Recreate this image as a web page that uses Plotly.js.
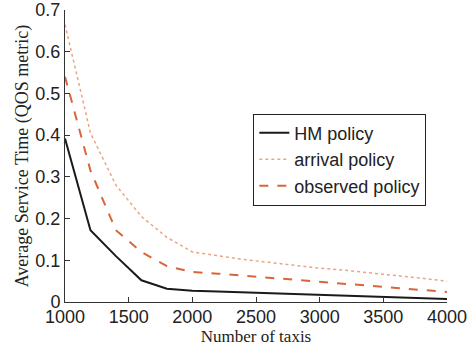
<!DOCTYPE html>
<html>
<head>
<meta charset="utf-8">
<script src="https://cdn.plot.ly/plotly-3.0.1.min.js"></script>
<style>html,body{margin:0;padding:0;background:#fff;}#chart{width:469px;height:351px;}</style>
</head>
<body>
<div id="chart"></div>
<script>
const taxis = [1000,1200,1400,1600,1800,2000,2200,2400,2600,2800,3000,3200,3400,3600,3800,4000];
const hmPolicy = [0.392,0.172,0.110,0.052,0.032,0.027,0.025,0.023,0.021,0.019,0.017,0.015,0.013,0.011,0.009,0.007];
const arrivalPolicy = [0.665,0.405,0.280,0.205,0.155,0.120,0.111,0.102,0.095,0.088,0.081,0.076,0.070,0.064,0.057,0.050];
const observedPolicy = [0.540,0.315,0.172,0.120,0.086,0.072,0.068,0.063,0.058,0.053,0.048,0.043,0.039,0.034,0.029,0.024];
const seriesNames = ["HM policy","arrival policy","observed policy"];

const traces = [
  {x: taxis, y: hmPolicy, name: seriesNames[0], mode: "lines", line: {color: "#1a1a1a", width: 2}},
  {x: taxis, y: arrivalPolicy, name: seriesNames[1], mode: "lines", line: {color: "#eba583", width: 1.5, dash: "dot"}},
  {x: taxis, y: observedPolicy, name: seriesNames[2], mode: "lines", line: {color: "#d9653a", width: 2, dash: "dash"}}
];

const layout = {
  width: 469, height: 351,
  margin: {l: 65, r: 22, t: 10, b: 49, pad: 0},
  paper_bgcolor: "#fff", plot_bgcolor: "#fff",
  showlegend: true,
  legend: {x: 0.493, y: 0.645, xanchor: "left", yanchor: "top", bordercolor: "#222", borderwidth: 1,
           bgcolor: "#fff", font: {family: "Liberation Sans, Arial", size: 18, color: "#222"}, tracegroupgap: 0},
  xaxis: {range: [1000, 4000], dtick: 500, tick0: 1000, ticks: "inside", ticklen: 5, tickcolor: "#333",
          showline: true, linecolor: "#333", linewidth: 1, showgrid: false, zeroline: false, mirror: false,
          tickfont: {family: "Liberation Sans, Arial", size: 18, color: "#222"}, ticklabelstandoff: -2,
          title: {text: "Number of taxis", font: {family: "Liberation Serif, Times New Roman", size: 17, color: "#222"}, standoff: 2},
          automargin: false},
  yaxis: {range: [0, 0.7], dtick: 0.1, tick0: 0, ticks: "inside", ticklen: 5, tickcolor: "#333",
          showline: true, linecolor: "#333", linewidth: 1, showgrid: false, zeroline: false, mirror: false,
          tickfont: {family: "Liberation Sans, Arial", size: 18, color: "#222"},
          title: {text: "Average Service Time (QOS metric)", font: {family: "Liberation Serif, Times New Roman", size: 18, color: "#222"}, standoff: 2},
          automargin: false}
};

Plotly.newPlot("chart", traces, layout, {displayModeBar: false, staticPlot: true});
</script>
</body>
</html>
